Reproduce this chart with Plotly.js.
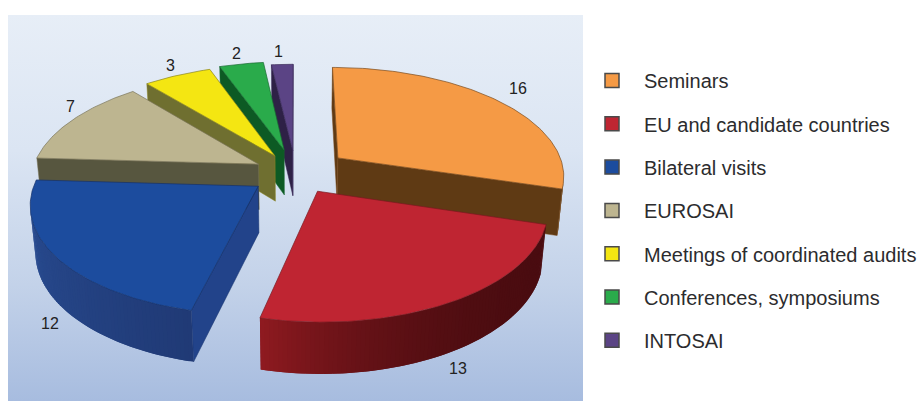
<!DOCTYPE html>
<html>
<head>
<meta charset="utf-8">
<script src="https://cdn.plot.ly/plotly-3.0.1.min.js"></script>
<style>
  html, body { margin: 0; padding: 0; background: #fff; }
  #wrap { position: relative; width: 917px; height: 401px; overflow: hidden; }
  #backdrop { position: absolute; left: 8px; top: 15px; width: 575px; height: 386px;
              background: linear-gradient(to bottom, #e7eef7 0%, #dbe5f3 35%, #c3d2e9 70%, #a7bcdf 100%); }
  #chart { position: absolute; left: 0; top: 0; width: 960px; height: 401px; }
</style>
</head>
<body>
<div id="wrap"><div id="backdrop"></div><div id="chart"></div></div>
<script>
// Activities by type
const categories = ['Seminars', 'EU and candidate countries', 'Bilateral visits', 'EUROSAI',
                    'Meetings of coordinated audits', 'Conferences, symposiums', 'INTOSAI'];
const values = [16, 13, 12, 7, 3, 2, 1];

const topColors  = ['#f59a45', '#bf2532', '#1c4c9e', '#bdb590', '#f4e612', '#2aab4b', '#5b4485'];
const wallFrom   = ['#5f3a14', '#4a0c10', '#203a76', '#57563f', '#6f6f30', '#0d5a24', '#2e2146'];
const wallTo     = ['#6f4519', '#8e1a20', '#2a4f96', '#57563f', '#6f6f30', '#0d5a24', '#2e2146'];
const edgeColors = ['#7a4a1c', '#7a1a20', '#14306a', '#7a7458', '#8a8420', '#186a30', '#3a2a58'];

// Back-to-front painting order of the exploded slices
const paintOrder = [6, 5, 4, 3, 0, 2, 1];
// Offsets of the value labels from the middle of each slice's rim
const labelShift = [[20, -12], [6, 67], [-7, 66], [-2, -13], [-7, -10], [-5, -10.5], [-4, -13]];
// How far each slice is pulled out of the pie, and its drawn radius
const explode = [0.245, 0.195, 0.207, 0.19, 0.19, 0.23, 0.218];
const sliceRadius = [1.03, 1.005, 1.0, 1.03, 1.05, 1.025, 1];

// Perspective camera looking down on the pie
const camera = { cx: 295.5, cy: 173, scale: 220.5, tilt: 28.5 * Math.PI / 180, dist: 6 };
const thickness = 0.241;

const st = Math.sin(camera.tilt), ct = Math.cos(camera.tilt);

function planePoint(radius, deg, mid, pull) {
  const a = deg * Math.PI / 180, m = mid * Math.PI / 180;
  return [radius * Math.sin(a) + pull * Math.sin(m), radius * Math.cos(a) + pull * Math.cos(m)];
}

function project(radius, deg, mid, pull, z) {
  const [X, Y] = planePoint(radius, deg, mid, pull);
  const depth = camera.dist + Y * ct - z * st;
  const k = camera.scale * camera.dist / depth;
  return [camera.cx + k * X, camera.cy - k * (Y * st + z * ct)];
}

// True when the wall through (radius, deg) with outward normal normalDeg turns toward the camera
function facesCamera(radius, deg, mid, pull, normalDeg) {
  const [X, Y] = planePoint(radius, deg, mid, pull);
  const n = normalDeg * Math.PI / 180;
  return (0 - X) * Math.sin(n) + (-camera.dist * ct - Y) * Math.cos(n) > 0;
}

function hexMix(a, b, t) {
  const p = s => [1, 3, 5].map(i => parseInt(s.substr(i, 2), 16));
  const A = p(a), B = p(b);
  return 'rgb(' + A.map((v, i) => Math.round(v + (B[i] - v) * t)).join(',') + ')';
}

function polygonTrace(points, fill, edge, width) {
  return {
    x: points.map(p => p[0]), y: points.map(p => p[1]),
    type: 'scatter', mode: 'lines', fill: 'toself', fillcolor: fill,
    line: { color: edge, width: width }, showlegend: false, hoverinfo: 'skip'
  };
}

const total = values.reduce((s, v) => s + v, 0);
const starts = [];
values.reduce((s, v) => { starts.push(s); return s + v; }, 0);
const angleOf = v => v / total * 360;

const traces = [];
const annotations = [];

paintOrder.forEach(i => {
  const a0 = angleOf(starts[i]), a1 = angleOf(starts[i] + values[i]), mid = (a0 + a1) / 2;
  const pull = explode[i], r = sliceRadius[i];
  const steps = Math.max(4, Math.round(a1 - a0));
  const arc = [];
  for (let s = 0; s <= steps; s++) arc.push(a0 + (a1 - a0) * s / steps);

  // Radial walls: only the ones turned toward the camera
  [[a0, a0 - 90], [a1, a1 + 90]].forEach(([a, normal]) => {
    if (!facesCamera(0, 0, mid, pull, normal)) return;
    traces.push(polygonTrace([
      project(0, 0, mid, pull, 0), project(r, a, mid, pull, 0),
      project(r, a, mid, pull, -thickness), project(0, 0, mid, pull, -thickness),
      project(0, 0, mid, pull, 0)
    ], i === 2 ? '#22438a' : wallFrom[i], edgeColors[i], 0.5));
  });

  // Rim, shaded in short overlapping segments so no seams show
  for (let s = 0; s < steps; s++) {
    const centre = (arc[s] + arc[s + 1]) / 2;
    if (!facesCamera(r, centre, mid, pull, centre)) continue;
    const col = hexMix(wallFrom[i], wallTo[i], Math.pow(s / (steps - 1), i === 1 ? 3 : 1));
    const next = arc[Math.min(s + 2, steps)];
    traces.push(polygonTrace([
      project(r, arc[s], mid, pull, 0), project(r, next, mid, pull, 0),
      project(r, next, mid, pull, -thickness), project(r, arc[s], mid, pull, -thickness),
      project(r, arc[s], mid, pull, 0)
    ], col, col, 0));
  }

  // Top face
  const top = [project(0, 0, mid, pull, 0)];
  arc.forEach(a => top.push(project(r, a, mid, pull, 0)));
  top.push(project(0, 0, mid, pull, 0));
  traces.push(polygonTrace(top, topColors[i], edgeColors[i], 0.7));

  // Value label anchored on the slice rim
  const anchor = project(r, mid, mid, pull, 0);
  annotations.push({
    x: anchor[0], y: anchor[1], xref: 'x', yref: 'y',
    text: String(values[i]), showarrow: false,
    xshift: labelShift[i][0], yshift: -labelShift[i][1],
    font: { family: 'Liberation Sans, Arial, sans-serif', size: 16, color: '#222' }
  });
});

// Legend entries, one group each so that the gap between rows can be set
categories.forEach((name, i) => {
  traces.push({
    x: [-100], y: [-100], type: 'scatter', mode: 'markers', name: name,
    legendgroup: 'g' + i, showlegend: true, hoverinfo: 'skip',
    marker: { symbol: 'square', size: 14, color: topColors[i], line: { color: '#4a4a4a', width: 1.5 } }
  });
});

// The canvas runs a little past the page edge so the long legend row keeps its place
const canvasWidth = 960;
const layout = {
  width: canvasWidth, height: 401,
  margin: { l: 0, r: 0, t: 0, b: 0 },
  paper_bgcolor: 'rgba(0,0,0,0)', plot_bgcolor: 'rgba(0,0,0,0)',
  xaxis: { range: [0, canvasWidth], visible: false, fixedrange: true },
  yaxis: { range: [401, 0], visible: false, fixedrange: true },
  annotations: annotations,
  showlegend: true,
  legend: {
    x: 580 / canvasWidth, xanchor: 'left', y: 1 - 61 / 401, yanchor: 'top',
    itemwidth: 54, tracegroupgap: 14.3, bgcolor: 'rgba(0,0,0,0)', borderwidth: 0,
    font: { family: 'Liberation Sans, Arial, sans-serif', size: 20, color: '#2c2c2e' }
  }
};

Plotly.newPlot('chart', traces, layout, { displayModeBar: false, staticPlot: true });
</script>
</body>
</html>
